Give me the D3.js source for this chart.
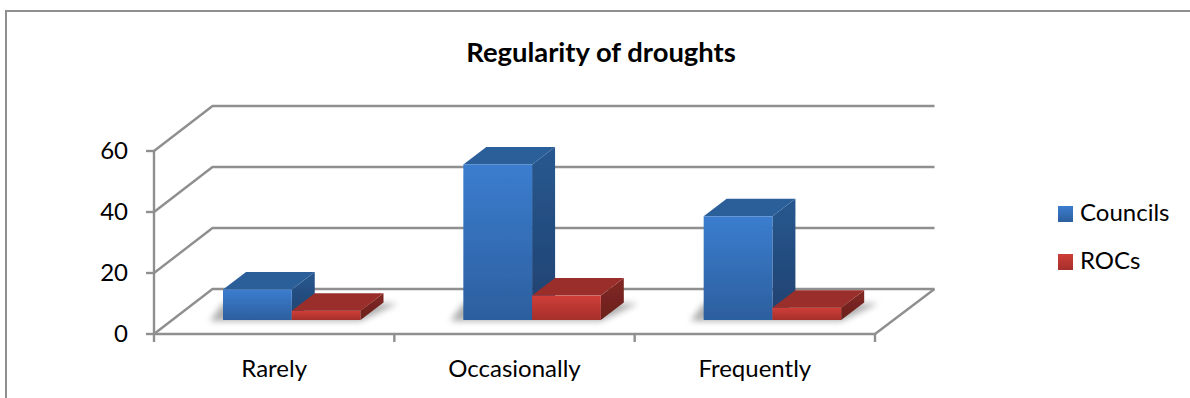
<!DOCTYPE html>
<html><head><meta charset="utf-8">
<script src="https://cdn.jsdelivr.net/npm/d3@7"></script>
<style>html,body{margin:0;padding:0;background:#fff}svg{display:block}text{font-family:Lato,"Open Sans",sans-serif;fill:#000}</style>
</head><body><svg id="c" width="1190" height="398"></svg>
<script>
const categories = ["Rarely","Occasionally","Frequently"];
const seriesNames = ["Councils","ROCs"];
const councils = [10,51,34];
const rocs = [3,8,4];
const yTicks = [0,20,40,60];
const titleText = "Regularity of droughts";

const svg = d3.select("#c");
const defs = svg.append("defs");
const x = d3.scaleBand().domain(categories).range([154,875]);
const y = d3.scaleLinear().domain([0,60]).range([334,151]);
const series = d3.scaleBand().domain(seriesNames).range([0,137.5]);
const DX=58.5, DY=45;           // plot depth
const bdx=23, bdy=17.5;         // bar depth
const palette = {
  Councils:{top:"#2c5f9a",side:["#28588f","#1f4170"],front:["#3b7dcf","#2c5f9e"]},
  ROCs:{top:"#9a2e2a",side:["#822824","#6a1f1c"],front:["#cf3e38","#a52f2b"]}
};
function grad(id,c){const g=defs.append("linearGradient").attr("id",id).attr("x1",0).attr("y1",0).attr("x2",0).attr("y2",1);
  g.append("stop").attr("offset",0).attr("stop-color",c[0]);g.append("stop").attr("offset",1).attr("stop-color",c[1]);}
seriesNames.forEach(s=>{grad("f"+s,palette[s].front);grad("s"+s,palette[s].side);});
defs.append("filter").attr("id","sh").attr("x","-20%").attr("y","-80%").attr("width","140%").attr("height","260%")
  .append("feGaussianBlur").attr("stdDeviation",3);
defs.append("filter").attr("id","soft").attr("x","-5%").attr("y","-5%").attr("width","110%").attr("height","110%")
  .append("feGaussianBlur").attr("stdDeviation",0.35);

// frame
const line="#8f8f8f", lw=2.4;
svg.append("path").attr("d","M6,398V11H1190").attr("fill","none").attr("stroke",line).attr("stroke-width",2);

const plot=svg.append("g");
const L=x.range()[0],R=x.range()[1],y0=y(0);
// gridlines on back wall and side wall
yTicks.forEach(t=>{
  plot.append("path").attr("d",`M${L},${y(t)}L${L+DX},${y(t)-DY}H${R+DX+1}`).attr("fill","none").attr("stroke",line).attr("stroke-width",lw);
});
// floor front edge and right side
plot.append("path").attr("d",`M${L},${y0}H${R}L${R+DX+1},${y0-DY}`).attr("fill","none").attr("stroke",line).attr("stroke-width",lw);
// axis lines and ticks
plot.append("path").attr("d",`M${L},${y(60)}V${y0+8}`).attr("fill","none").attr("stroke",line).attr("stroke-width",lw);
yTicks.forEach(t=>{plot.append("line").attr("x1",L-8).attr("x2",L).attr("y1",y(t)).attr("y2",y(t)).attr("stroke",line).attr("stroke-width",lw);});
categories.forEach(c=>{const xx=x(c)+x.bandwidth();plot.append("line").attr("x1",xx).attr("x2",xx).attr("y1",y0).attr("y2",y0+8).attr("stroke",line).attr("stroke-width",lw);});

// bars
const base=y0-14;
const vals={Councils:councils,ROCs:rocs};
categories.forEach((c,i)=>{
  const x0=x(c)+69, x2=x0+series.range()[1];
  plot.append("polygon").attr("points",[[x0-13,base+1],[x2,base+1],[x2+bdx+14,base-bdy+1],[x0,base-bdy+1]].join(" "))
    .attr("fill","#777").attr("opacity",.6).attr("filter","url(#sh)");
  seriesNames.forEach(s=>{
    const xl=x0+series(s), xr=xl+series.bandwidth(), h=y0-y(vals[s][i]), yt=base-h, P=palette[s];
    const g=plot.append("g").attr("filter","url(#soft)");
    g.append("polygon").attr("points",[[xr,yt],[xr+bdx,yt-bdy],[xr+bdx,base-bdy],[xr,base]].join(" ")).attr("fill",`url(#s${s})`);
    g.append("polygon").attr("points",[[xl,yt],[xl+bdx,yt-bdy],[xr+bdx,yt-bdy],[xr,yt]].join(" ")).attr("fill",P.top);
    g.append("rect").attr("x",xl).attr("y",yt).attr("width",xr-xl).attr("height",h).attr("fill",`url(#f${s})`);
  });
});

const fs=24;
// y labels
yTicks.forEach(t=>{svg.append("text").attr("x",128).attr("y",y(t)+8).attr("text-anchor","end").attr("font-size",fs).text(t)});
// x labels
categories.forEach(c=>{svg.append("text").attr("x",x(c)+x.bandwidth()/2).attr("y",377).attr("text-anchor","middle").attr("font-size",fs).text(c)});
// title
svg.append("text").attr("x",601).attr("y",62).attr("text-anchor","middle").attr("font-size",27.4).attr("font-weight",700).text(titleText);
// legend
const ly=d3.scalePoint().domain(seriesNames).range([222,270]);
seriesNames.forEach(s=>{
  svg.append("rect").attr("x",1058).attr("y",ly(s)-16).attr("width",15).attr("height",16).attr("fill",`url(#f${s})`);
  svg.append("text").attr("x",1080).attr("y",ly(s)-1).attr("font-size",fs).text(s);
});
</script></body></html>
